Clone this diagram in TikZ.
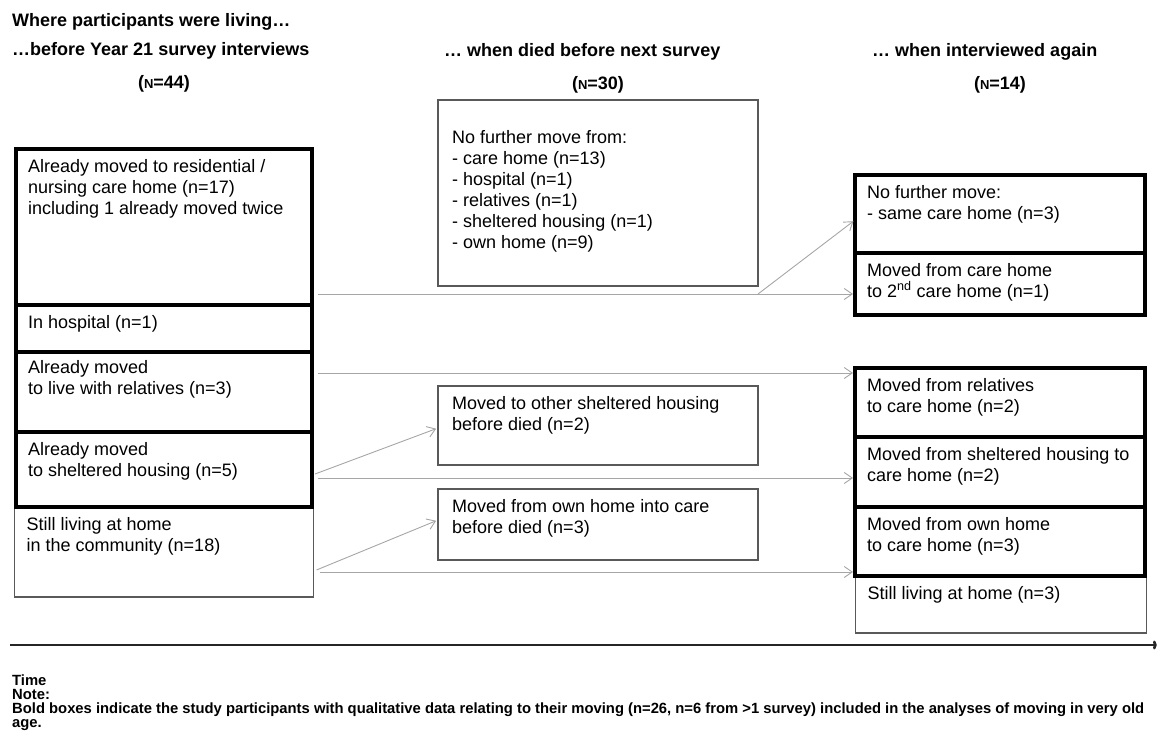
\documentclass[tikz,border=0pt]{standalone}
\usepackage{fontspec}
\setmainfont{Liberation Sans}
\usetikzlibrary{arrows.meta}

\newcommand{\boxfont}{\fontsize{18}{21}\selectfont}
\newcommand{\headfont}{\fontsize{18}{22}\selectfont\bfseries}
\newcommand{\notefont}{\fontsize{14.8}{14}\selectfont\bfseries}
\newcommand{\smallN}{{\fontsize{13}{13}\selectfont N}}

\tikzset{
  thinbox/.style={draw=black!65, line width=1.3pt, anchor=north west, inner sep=0pt, outer sep=0pt},
  boldbox/.style={thinbox, draw=black, line width=4pt},
  txt/.style={anchor=north west, align=left, font=\boxfont, inner xsep=12pt, inner ysep=10pt},
  flow/.style={draw=black!35, line width=0.9pt, -{Straight Barb[length=8pt,width=11pt]}, shorten >=2pt},
  timeline/.style={draw=black!85, line width=2.6pt, -{To[length=4pt,width=9pt]}},
  head/.style={font=\headfont, inner sep=0pt, anchor=base west},
}

\begin{document}
\begin{tikzpicture}[x=1pt, y=-1pt]
\useasboundingbox (0,0) rectangle (1157,739);

\node[head] (where) at (12,26.5) {Where participants were living…};
\node[head] (before) at (12,55.5) {…before Year 21 survey interviews};
\node[head] (died) at (444,56.5) {… when died before next survey};
\node[head] (again) at (872,56.5) {… when interviewed again};
\node[head, anchor=base] (n44) at (164,88.5) {(\smallN=44)};
\node[head, anchor=base] (n30) at (598,89.5) {(\smallN=30)};
\node[head, anchor=base] (n14) at (1000,89.5) {(\smallN=14)};

\node[thinbox, minimum width=299, minimum height=90,
  label={[txt]north west:{Still living at home\\in the community (n=18)}}] (home) at (14.5,507) {};
\node[boldbox, minimum width=296, minimum height=156,
  label={[txt]north west:{Already moved to residential /\\nursing care home (n=17)\\including 1 already moved twice}}] (care) at (16,149) {};
\node[boldbox, minimum width=296, minimum height=47,
  label={[txt]north west:{In hospital (n=1)}}] (hosp) at (16,305) {};
\node[boldbox, minimum width=296, minimum height=80,
  label={[txt, inner ysep=8pt]north west:{Already moved\\to live with relatives (n=3)}}] (rel) at (16,352) {};
\node[boldbox, minimum width=296, minimum height=75,
  label={[txt]north west:{Already moved\\to sheltered housing (n=5)}}] (shel) at (16,432) {};

\node[thinbox, minimum width=320, minimum height=186,
  label={[txt, inner xsep=14pt, inner ysep=30pt]north west:{No further move from:\\- care home (n=13)\\- hospital (n=1)\\- relatives (n=1)\\- sheltered housing (n=1)\\- own home (n=9)}}] (nomove) at (438,100) {};
\node[thinbox, minimum width=320, minimum height=79,
  label={[txt, inner xsep=14pt]north west:{Moved to other sheltered housing\\before died (n=2)}}] (othershel) at (438,386) {};
\node[thinbox, minimum width=320, minimum height=71,
  label={[txt, inner xsep=14pt]north west:{Moved from own home into care\\before died (n=3)}}] (intocare) at (438,489) {};

\node[thinbox, minimum width=291, minimum height=57,
  label={[txt]north west:{Still living at home (n=3)}}] (stillhome) at (855.5,576) {};
\node[boldbox, minimum width=290, minimum height=78,
  label={[txt]north west:{No further move:\\- same care home (n=3)}}] (samecare) at (855,175) {};
\node[boldbox, minimum width=290, minimum height=62,
  label={[txt]north west:{Moved from care home\\to 2\textsuperscript{nd} care home (n=1)}}] (secondcare) at (855,253) {};
\node[boldbox, minimum width=290, minimum height=69,
  label={[txt]north west:{Moved from relatives\\to care home (n=2)}}] (relcare) at (855,368) {};
\node[boldbox, minimum width=290, minimum height=70,
  label={[txt]north west:{Moved from sheltered housing to\\care home (n=2)}}] (shelcare) at (855,437) {};
\node[boldbox, minimum width=290, minimum height=69,
  label={[txt]north west:{Moved from own home\\to care home (n=3)}}] (owncare) at (855,507) {};

\coordinate (a) at ([xshift=6pt,yshift=11pt]care.south east);
\coordinate (b) at (nomove.east |- a);
\coordinate (r) at ([xshift=6pt,yshift=19pt]rel.east);
\coordinate (s) at ([xshift=6pt,yshift=-8.5pt]shel.east);
\coordinate (h) at ([xshift=6pt,yshift=-20pt]home.east);
\draw[flow] (a) -- (secondcare.west |- a);
\draw[flow] (b) -- ([yshift=-6pt]samecare.west);
\draw[flow] (r) -- (relcare.west |- r);
\draw[flow] (s) -- (shelcare.west |- s);
\draw[flow] ([xshift=3pt,yshift=-4.5pt]shel.east) -- ([yshift=-2.5pt]othershel.west);
\draw[flow] (h) -- (owncare.west |- h);
\draw[flow] ([xshift=3pt,yshift=-18pt]home.east) -- ([yshift=4.5pt]intocare.west);

\coordinate (t0) at (10,645);
\coordinate (t1) at (1157,645);
\draw[timeline] (t0) -- (t1);

\node[anchor=north west, inner sep=0pt, font=\notefont] (time) at (12,674.5) {Time};
\node[anchor=north west, inner sep=0pt, font=\notefont, align=left] (note) at (12,689) {Note:\\Bold boxes indicate the study participants with qualitative data relating to their moving (n=26, n=6 from >1 survey) included in the analyses of moving in very old\\age.};
\end{tikzpicture}
\end{document}
